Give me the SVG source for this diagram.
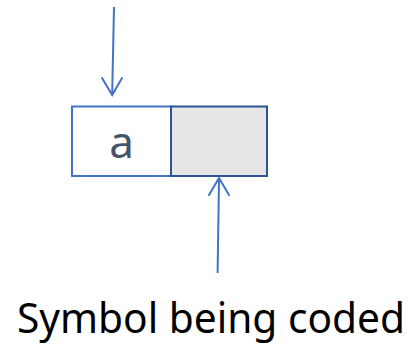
<svg xmlns="http://www.w3.org/2000/svg" width="414" height="345" viewBox="0 0 414 345">
  <style>
    .conn { fill: none; stroke: #4472C4; stroke-width: 2; }
    .head { fill: none; stroke: #4472C4; stroke-width: 2; stroke-linecap: round; stroke-linejoin: miter; }
    .label { font-family: "Noto Sans", "Open Sans", "Liberation Sans", sans-serif; }
  </style>
  <rect width="414" height="345" fill="#FFFFFF"/>

  <g id="cell-a">
    <rect x="72" y="106.5" width="99" height="69.5" fill="#FFFFFF" stroke="#4472C4" stroke-width="2"/>
    <text class="label" x="121.5" y="158" font-size="44" fill="#44546A" text-anchor="middle">a</text>
  </g>

  <g id="cell-current">
    <rect x="171" y="106.5" width="96" height="69.5" fill="#E7E6E6" stroke="#2F5597" stroke-width="2"/>
  </g>

  <g id="connectors">
    <line class="conn" x1="114" y1="7" x2="112.2" y2="94"/>
    <polyline class="head" points="102,78 112.2,95 122,78"/>
    <line class="conn" x1="217.6" y1="273" x2="219" y2="179"/>
    <polyline class="head" points="209,195 219,178 229,195"/>
  </g>

  <g id="caption">
    <text class="label" x="17" y="333" font-size="41" fill="#000000" textLength="388" lengthAdjust="spacingAndGlyphs">Symbol being coded</text>
  </g>
</svg>
